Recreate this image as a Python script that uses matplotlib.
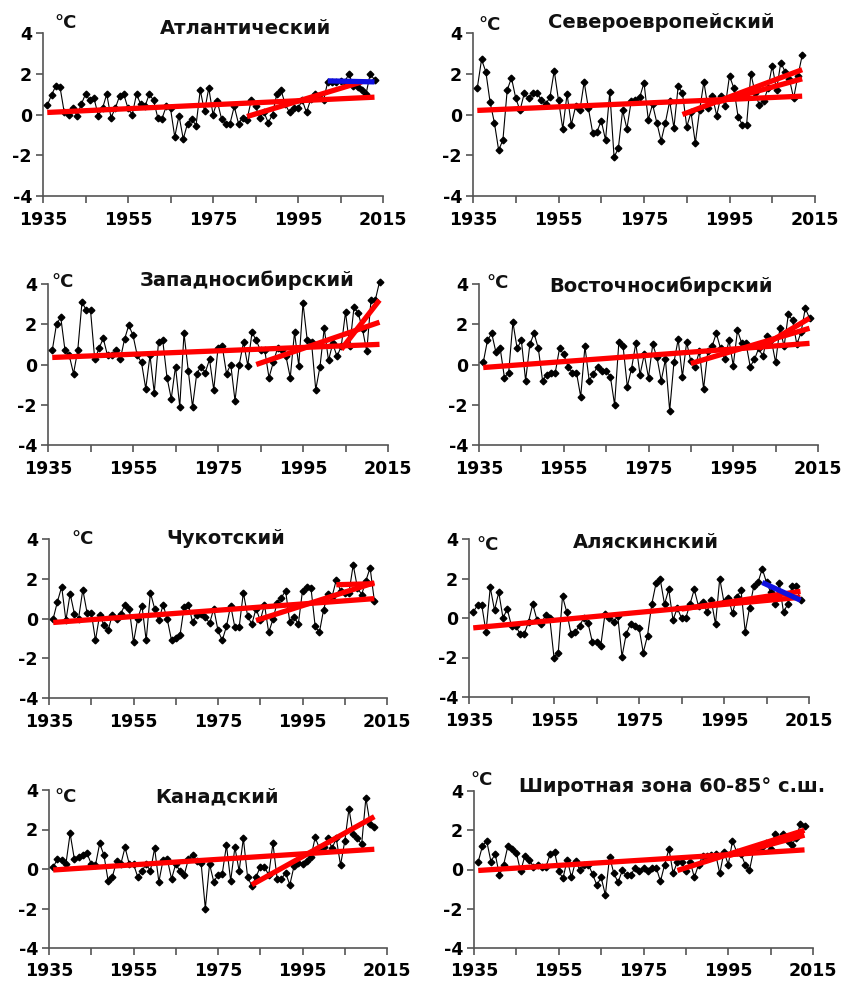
import numpy as np
import matplotlib
matplotlib.use("Agg")
import matplotlib.pyplot as plt

plt.rcParams['font.family'] = ['DejaVu Sans']
plt.rcParams['axes.unicode_minus'] = False

# annual temperature anomalies, °C, starting 1936
atlantic = [0.45, 0.95, 1.4, 1.35, 0.1, 0.0, 0.3, -0.05, 0.5, 1.0,
            0.7, 0.8, -0.05, 0.3, 1.0, -0.15, 0.3, 0.9, 1.0, 0.3,
            0.0, 1.0, 0.5, 0.4, 1.0, 0.7, -0.15, -0.2, 0.4, 0.3,
            -1.1, -0.05, -1.2, -0.45, -0.2, -0.55, 1.2, 0.15, 1.3, 0.0,
            0.65, -0.2, -0.45, -0.45, 0.4, -0.45, -0.15, -0.25, 0.7, 0.4,
            -0.15, 0.1, -0.4, 0.0, 1.0, 1.2, 0.5, 0.1, 0.3, 0.3,
            0.7, 0.1, 0.75, 1.0, 0.85, 0.7, 1.6, 1.6, 1.6, 1.65,
            1.6, 2.0, 1.4, 1.35, 1.2, 1.0, 2.0, 1.7]
north_europe = [1.3, 2.7, 2.1, 0.6, -0.4, -1.75, -1.25, 1.2, 1.8, 0.8,
                0.2, 1.05, 0.8, 1.05, 1.05, 0.7, 0.5, 0.85, 2.15, 0.7,
                -0.7, 1.0, -0.5, 0.4, 0.2, 1.6, 0.3, -0.9, -0.85, -0.3,
                -1.25, 1.1, -2.1, -1.65, 0.2, -0.7, 0.65, 0.7, 0.85, 1.55,
                -0.25, 0.5, -0.4, -1.3, -0.4, 0.65, -0.65, 1.4, 1.05, -0.6,
                0.1, -1.4, 0.2, 1.6, 0.3, 0.9, -0.05, 0.9, 0.4, 1.9,
                1.3, -0.1, -0.5, -0.5, 2.0, 1.05, 0.45, 0.65, 1.3, 2.4,
                1.2, 2.55, 2.1, 1.75, 0.8, 1.9, 2.9]
west_siberia = [0.7, 2.0, 2.35, 0.7, 0.45, -0.45, 0.7, 3.1, 2.7, 2.7,
                0.25, 0.8, 1.3, 0.45, 0.45, 0.7, 0.25, 1.25, 1.95, 1.45,
                0.45, 0.1, -1.2, 0.45, -1.4, 1.1, 1.2, -0.65, -1.7, -0.1,
                -2.1, 1.55, -0.3, -2.1, -0.45, -0.1, -0.4, 0.25, -1.25, 0.8,
                0.9, -0.45, 0.0, -1.8, 0.0, 1.1, -0.05, 1.6, 1.2, 0.7,
                0.7, -0.65, 0.1, 0.8, 0.7, 0.4, -0.65, 1.6, -0.05, 3.05,
                1.2, 1.1, -1.25, -0.1, 1.8, 0.2, 1.05, 0.4, 0.9, 2.6,
                0.9, 2.85, 2.55, 1.75, 0.65, 3.2, 3.2, 4.1]
east_siberia = [0.1, 1.2, 1.55, 0.6, 0.8, -0.65, -0.4, 2.1, 0.8, 1.2,
                -0.8, 1.0, 1.55, 0.8, -0.8, -0.5, -0.4, -0.4, 0.8, 0.5,
                -0.1, -0.4, -0.4, -1.6, 0.9, -0.8, -0.45, -0.1, -0.3, -0.3,
                -0.6, -2.0, 1.1, 0.9, -1.1, -0.2, 1.05, -0.5, 0.5, -0.65,
                1.0, 0.35, -0.8, 0.25, -2.3, 0.1, 1.25, -0.6, 1.1, 0.15,
                -0.1, 0.65, -1.2, 0.65, 0.9, 1.55, 0.8, 0.25, 1.2, -0.05,
                1.7, 1.05, 1.05, -0.1, 0.25, 0.8, 0.4, 1.4, 1.2, 0.1,
                1.8, 0.9, 2.5, 2.2, 1.0, 1.6, 2.8, 2.3]
chukotka = [0.0, 0.85, 1.6, -0.1, 1.25, 0.25, 0.0, 1.45, 0.3, 0.3,
            -1.1, 0.2, -0.35, -0.6, 0.2, -0.05, 0.25, 0.7, 0.5, -1.2,
            0.0, 0.65, -1.1, 1.3, 0.5, -0.1, 0.7, -0.05, -1.1, -1.0,
            -0.85, 0.6, 0.7, -0.2, 0.2, 0.25, 0.1, -0.25, 0.5, -0.6,
            -1.1, -0.4, 0.65, -0.45, -0.45, 1.3, 0.15, -0.3, 0.5, -0.1,
            0.7, -0.7, -0.05, 0.8, 1.05, 1.4, -0.2, 0.1, -0.3, 1.4,
            1.6, 1.55, -0.4, -0.7, 0.45, 1.25, 1.1, 1.95, 1.4, 1.3,
            1.3, 2.7, 1.55, 1.2, 1.9, 2.55, 0.9]
alaska = [0.3, 0.65, 0.65, -0.7, 1.55, 0.4, 1.3, 0.0, 0.45, -0.4,
          -0.4, -0.8, -0.8, -0.2, 0.7, -0.1, -0.3, 0.15, 0.0, -2.0,
          -1.75, 1.1, 0.3, -0.8, -0.7, -0.4, 0.0, -0.25, -1.2, -1.2,
          -1.4, 0.2, 0.0, -0.2, 0.1, -1.95, -0.8, -0.3, -0.4, -0.5,
          -1.75, -0.9, 0.7, 1.75, 1.95, 0.7, 1.45, -0.1, 0.5, 0.0,
          0.0, 0.7, 1.45, 0.6, 0.8, 0.3, 0.9, -0.3, 2.0, 0.8,
          1.0, 0.25, 1.05, 1.4, -0.7, 0.5, 1.6, 1.8, 2.5, 1.8,
          1.3, 0.7, 1.75, 0.3, 0.7, 1.6, 1.6, 0.9]
canada = [0.1, 0.5, 0.45, 0.25, 1.8, 0.5, 0.6, 0.7, 0.8, 0.25,
          0.2, 1.3, 0.7, -0.6, -0.4, 0.4, 0.25, 1.1, 0.25, 0.25,
          -0.4, -0.1, 0.25, -0.1, 1.05, -0.65, 0.45, 0.5, -0.5, 0.25,
          -0.1, -0.3, 0.5, 0.7, 0.4, 0.3, -2.0, 0.25, -0.65, -0.3,
          -0.25, 1.2, -0.6, 1.1, -0.1, 1.55, -0.4, -0.85, -0.4, 0.1,
          0.1, -0.3, 1.3, -0.5, -0.5, -0.2, -0.8, 0.15, 0.3, 0.25,
          0.4, 0.6, 1.6, 1.05, 1.1, 1.55, 1.05, 1.55, 0.2, 1.4,
          3.05, 1.75, 1.55, 1.25, 3.6, 2.3, 2.15]
zone_60_85 = [0.4, 1.2, 1.45, 0.4, 0.8, -0.3, 0.25, 1.2, 1.05, 0.85,
              -0.1, 0.7, 0.5, 0.15, 0.25, 0.15, 0.15, 0.8, 0.9, -0.1,
              -0.45, 0.5, -0.4, 0.45, -0.05, 0.25, 0.25, -0.25, -0.8, -0.4,
              -1.3, 0.65, -0.2, -0.65, -0.05, -0.3, -0.3, 0.1, -0.1, 0.1,
              -0.1, 0.1, 0.1, -0.6, 0.25, 1.05, -0.2, 0.4, 0.4, -0.1,
              0.4, -0.4, 0.25, 0.7, 0.7, 0.75, 0.8, -0.2, 0.9, 0.25,
              1.45, 0.9, 0.8, 0.25, -0.05, 1.0, 1.05, 1.15, 1.35, 1.05,
              1.8, 1.55, 1.8, 1.45, 1.25, 1.6, 2.3, 2.2]

# linear trends: (start year, start value, end year, end value)
atlantic_red = [(1936, 0.1, 2013, 0.85), (1983, -0.1, 2010, 1.6)]
atlantic_blue = [(2002, 1.65, 2013, 1.6)]
north_europe_red = [(1936, 0.2, 2012, 0.9), (1984, 0.0, 2012, 2.2), (1992, 0.6, 2012, 1.75)]
west_siberia_red = [(1936, 0.35, 2013, 1.0), (1984, 0.0, 2013, 2.1), (2004, 0.75, 2013, 3.2)]
east_siberia_red = [(1936, -0.15, 2013, 1.05), (1985, 0.05, 2013, 1.8), (2001, 0.8, 2013, 2.3)]
chukotka_red = [(1936, -0.2, 2012, 1.0), (1984, -0.1, 2012, 1.8), (2003, 1.7, 2012, 1.75)]
alaska_red = [(1936, -0.5, 2013, 1.05), (1985, 0.45, 2013, 1.35)]
alaska_blue = [(2004, 1.8, 2013, 0.9)]
canada_red = [(1936, -0.05, 2012, 1.0), (1983, -0.8, 2012, 2.65)]
zone_red = [(1936, -0.05, 2013, 1.0), (1983, -0.05, 2013, 2.0), (1995, 0.7, 2013, 1.75)]

titles = ['Атлантический', 'Североевропейский', 'Западносибирский', 'Восточносибирский',
          'Чукотский', 'Аляскинский', 'Канадский', 'Широтная зона 60-85° с.ш.']
series = [atlantic, north_europe, west_siberia, east_siberia,
          chukotka, alaska, canada, zone_60_85]
red_trends = [atlantic_red, north_europe_red, west_siberia_red, east_siberia_red,
              chukotka_red, alaska_red, canada_red, zone_red]
blue_trends = [atlantic_blue, [], [], [], [], alaska_blue, [], []]

year_ticks = [1935, 1945, 1955, 1965, 1975, 1985, 1995, 2005, 2015]
year_labels = ['1935', '', '1955', '', '1975', '', '1995', '', '2015']
value_ticks = [-4, -2, 0, 2, 4]

W, H = 843, 983
# axes boxes in pixels: left, top, right, bottom
boxes = [(43, 33, 383, 196), (473, 33, 815, 196),
         (48, 284, 388, 445), (479, 284, 818, 445),
         (49, 539, 387, 698), (469, 539, 809, 697),
         (49, 790, 387, 948), (474, 791, 813, 948)]
title_pos = [(246, 29), (661, 23), (247, 280), (661, 286),
             (226, 538), (646, 543), (217, 797), (672, 787)]
unit_pos = [(66, 23), (490, 25), (63, 282), (498, 283),
            (83, 539), (488, 545), (66, 797), (482, 780)]

fig = plt.figure(figsize=(W / 100, H / 100), dpi=100)

for i in range(8):
    l, t, r, b = boxes[i]
    ax = fig.add_axes([l / W, 1 - b / H, (r - l) / W, (b - t) / H])
    vals = series[i]
    years = np.arange(1936, 1936 + len(vals))
    ax.plot(years, vals, color='black', lw=0.8, marker='D', ms=3.4, clip_on=False, zorder=3)
    for y0, v0, y1, v1 in red_trends[i]:
        ax.plot([y0, y1], [v0, v1], color='#ff0000', lw=3.8, solid_capstyle='butt', zorder=4)
    for y0, v0, y1, v1 in blue_trends[i]:
        ax.plot([y0, y1], [v0, v1], color='#1010e0', lw=3.8, solid_capstyle='butt', zorder=5)

    ax.set_xlim(1935, 2015)
    ax.set_ylim(-4, 4)
    ax.set_xticks(year_ticks)
    ax.set_xticklabels(year_labels)
    ax.set_yticks(value_ticks)
    ax.set_yticklabels([str(v) for v in value_ticks])
    for side in ('top', 'right'):
        ax.spines[side].set_visible(False)
    for side in ('left', 'bottom'):
        ax.spines[side].set_color('#555555')
        ax.spines[side].set_linewidth(1.2)
    ax.tick_params(direction='out', length=5, width=1.2, color='#555555',
                   labelsize=12.5)
    ax.tick_params(axis='x', pad=6 if i < 6 else 5)
    ax.tick_params(axis='y', pad=3)
    for lab in ax.get_xticklabels() + ax.get_yticklabels():
        lab.set_fontweight('bold')

    tx, ty = title_pos[i]
    fig.text(tx / W, 1 - ty / H, titles[i], fontsize=14, fontweight='bold',
             ha='center', va='center', color='#111111')
    ux, uy = unit_pos[i]
    fig.text(ux / W, 1 - uy / H, '°C', fontsize=13, fontweight='bold',
             ha='center', va='center', color='#111111')

fig.savefig('out.png', dpi=100, facecolor='white')
